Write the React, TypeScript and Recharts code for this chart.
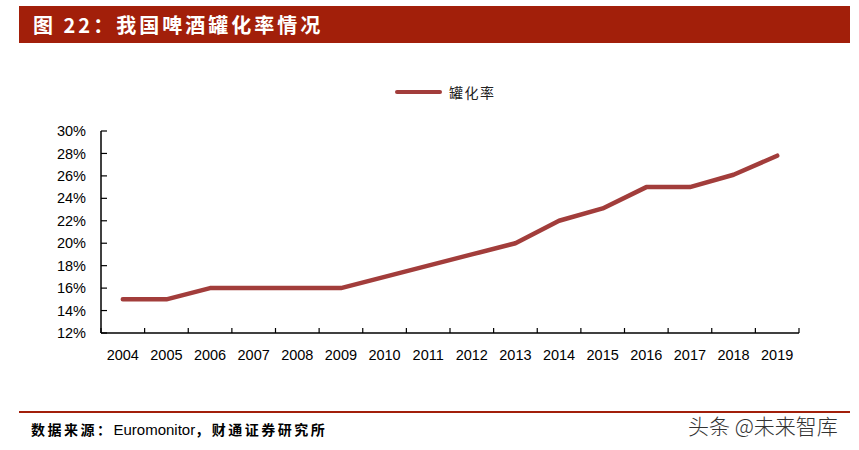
import { LineChart, Line, XAxis, YAxis } from "recharts";

const years = [
  "2004", "2005", "2006", "2007", "2008", "2009", "2010", "2011",
  "2012", "2013", "2014", "2015", "2016", "2017", "2018", "2019",
];
const canRate = [15, 15, 16, 16, 16, 16, 17, 18, 19, 20, 22, 23.1, 25, 25, 26.1, 27.8];
const yTicks = [12, 14, 16, 18, 20, 22, 24, 26, 28, 30];
const seriesName = "罐化率";
const title = "图 22：我国啤酒罐化率情况";

const data = years.map((year, i) => ({ year, rate: canRate[i] }));

const RED = "#A21F0A";
const LINE = "#A23D3B";
const CJK = '"Noto Sans CJK SC", sans-serif';
const LATIN = '"Liberation Sans", Arial, sans-serif';

const YTick = ({ x, y, payload }: any) => (
  <g>
    <line x1={x} x2={x + 6} y1={y} y2={y} stroke="#000" strokeWidth={1.2} />
    <text x={x - 15} y={y} dy="0.35em" textAnchor="end" fontSize={14.5} fontFamily={LATIN} fill="#000">
      {payload.value}%
    </text>
  </g>
);

const XTick = ({ x, y, payload, index }: any) => {
  const half = payload.offset || 21.8;
  return (
    <g>
      <line x1={x - half} x2={x - half} y1={y} y2={y - 5} stroke="#000" strokeWidth={1.2} />
      {index === years.length - 1 && (
        <line x1={x + half} x2={x + half} y1={y} y2={y - 5} stroke="#000" strokeWidth={1.2} />
      )}
      <text x={x} y={y + 22} dy="0.35em" textAnchor="middle" fontSize={14.5} fontFamily={LATIN} fill="#000">
        {payload.value}
      </text>
    </g>
  );
};

export default function App() {
  return (
    <div
      style={{
        position: "absolute",
        left: 0,
        top: 0,
        width: 859,
        height: 450,
        background: "#fff",
        overflow: "hidden",
      }}
    >
      {/* title bar */}
      <div
        style={{
          position: "absolute",
          left: 19,
          top: 6,
          width: 831,
          height: 37,
          background: RED,
          color: "#fff",
          fontFamily: CJK,
          fontWeight: 700,
          fontSize: 20,
          letterSpacing: 3,
          lineHeight: "37px",
          paddingLeft: 14,
          boxSizing: "border-box",
          whiteSpace: "nowrap",
        }}
      >
        {title}
      </div>

      {/* legend */}
      <div
        style={{
          position: "absolute",
          left: 395,
          top: 81,
          height: 22,
          display: "flex",
          alignItems: "center",
          fontFamily: CJK,
          fontSize: 14,
          letterSpacing: 1.5,
          color: "#222",
        }}
      >
        <span
          style={{
            display: "inline-block",
            width: 47,
            height: 4,
            borderRadius: 2,
            background: LINE,
            marginRight: 7,
          }}
        />
        {seriesName}
      </div>

      <div style={{ position: "absolute", left: 0, top: 0 }}>
        <LineChart
          width={859}
          height={450}
          data={data}
          margin={{ top: 131, right: 60, bottom: 87, left: 41 }}
        >
          <XAxis
            dataKey="year"
            scale="band"
            height={30}
            interval={0}
            tickSize={0}
            tickMargin={0}
            tick={<XTick />}
            axisLine={{ stroke: "#000", strokeWidth: 1.5 }}
            tickLine={false}
          />
          <YAxis
            width={60}
            domain={[12, 30]}
            ticks={yTicks}
            interval={0}
            tickSize={0}
            tickMargin={0}
            tick={<YTick />}
            axisLine={{ stroke: "#000", strokeWidth: 1.5 }}
            tickLine={false}
          />
          <Line
            type="linear"
            dataKey="rate"
            name={seriesName}
            stroke={LINE}
            strokeWidth={4.5}
            strokeLinecap="round"
            strokeLinejoin="round"
            dot={false}
            activeDot={false}
            isAnimationActive={false}
          />
        </LineChart>
      </div>

      {/* footer */}
      <div
        style={{
          position: "absolute",
          left: 19,
          top: 411,
          width: 831,
          height: 2,
          background: RED,
        }}
      />
      <div
        style={{
          position: "absolute",
          left: 31,
          top: 419,
          fontFamily: CJK,
          fontWeight: 700,
          fontSize: 14,
          letterSpacing: 2.5,
          color: "#000",
          whiteSpace: "nowrap",
          lineHeight: "20px",
        }}
      >
        数据来源：
        <span style={{ fontFamily: LATIN, fontSize: 15, letterSpacing: 0, fontWeight: 400 }}>Euromonitor</span>
        ，财通证券研究所
      </div>
      <div
        style={{
          position: "absolute",
          left: 688,
          top: 412,
          fontFamily: CJK,
          fontSize: 21,
          fontWeight: 300,
          color: "#333",
          whiteSpace: "nowrap",
          lineHeight: "26px",
        }}
      >
        头条 @未来智库
      </div>
    </div>
  );
}
